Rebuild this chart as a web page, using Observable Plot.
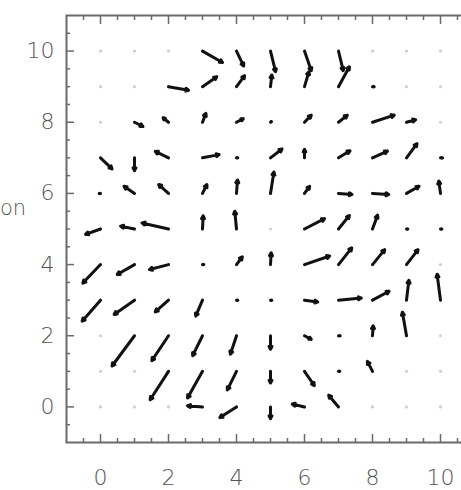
<!DOCTYPE html>
<html>
<head>
<meta charset="utf-8">
<script src="https://cdn.jsdelivr.net/npm/d3@7"></script>
<script src="https://cdn.jsdelivr.net/npm/@observablehq/plot@0.6"></script>
<style>
  html, body { margin: 0; padding: 0; background: #fff; }
  #wrap { position: relative; width: 461px; height: 490px; overflow: hidden; }
  #ylab { position: absolute; left: 0px; top: 196px; font: 200 21px "DejaVu Sans", sans-serif; color: #555; z-index: 2; }
</style>
</head>
<body>
<div id="wrap"></div>
<script>
// grid coordinates
const gridX = [0, 1, 2, 3, 4, 5, 6, 7, 8, 9, 10];
const gridY = [10, 9, 8, 7, 6, 5, 4, 3, 2, 1, 0]; // row order of U and V

// vector x-components, one row per gridY value (top row first)
const U = [
  [0, 0, 0, 0.59, 0.21, 0.15, 0.2, 0.14, 0, 0, 0],
  [0, 0, 0.59, 0.42, 0.24, 0.04, 0.13, 0.32, 0.05, 0, 0],
  [0, 0.25, -0.16, 0.1, 0.2, 0.03, 0.2, 0.26, 0.64, 0.27, 0],
  [0.34, 0, -0.39, 0.49, 0.04, 0.34, 0, 0.34, 0.44, 0.31, 0.06],
  [-0.04, -0.31, -0.29, 0.13, 0.03, 0.1, 0.15, 0.4, 0.48, 0.37, -0.05],
  [-0.44, -0.41, -0.78, 0.02, -0.05, 0, 0.59, 0.32, 0.15, 0.04, 0.04],
  [-0.52, -0.51, -0.56, 0.04, 0.17, 0.02, 0.74, 0.39, 0.36, 0.34, 0],
  [-0.54, -0.6, -0.39, -0.2, 0.04, 0.04, 0.39, 0.67, 0.49, 0.07, -0.1],
  [0, -0.66, -0.49, -0.29, -0.18, 0, 0.2, 0.05, 0.02, -0.12, 0],
  [0, 0, -0.54, -0.44, -0.27, 0, 0.29, 0.04, -0.15, 0, 0],
  [0, 0, 0, -0.44, -0.49, 0, -0.36, -0.29, 0, 0, 0]
];
// vector y-components
const V = [
  [0, 0, 0, -0.32, -0.42, -0.58, -0.55, -0.55, 0, 0, 0],
  [0, 0, -0.1, 0.28, 0.31, 0.33, 0.42, 0.56, 0, 0, 0],
  [0, -0.12, 0.13, 0.25, 0.1, 0.02, 0.2, 0.2, 0.2, 0.07, 0],
  [-0.31, -0.36, 0.18, 0.09, 0, 0.25, 0.24, 0.2, 0.19, 0.4, 0],
  [0, 0.2, 0.25, 0.25, 0.38, 0.6, 0.2, -0.03, -0.03, 0.2, 0.35],
  [-0.15, 0.08, 0.17, 0.37, 0.5, 0, 0.29, 0.38, 0.39, 0, 0],
  [-0.52, -0.28, -0.14, 0, 0.22, 0.33, 0.24, 0.47, 0.42, 0.42, 0],
  [-0.59, -0.4, -0.33, -0.45, 0, 0, -0.05, 0.06, 0.25, 0.56, 0.73],
  [0, -0.85, -0.7, -0.56, -0.52, -0.38, -0.1, 0, 0.28, 0.66, 0],
  [0, 0, -0.8, -0.75, -0.52, -0.33, -0.4, 0, 0.28, 0, 0],
  [0, 0, 0, 0.03, -0.3, -0.33, 0.08, 0.33, 0, 0, 0]
];

const majorTicks = [0, 2, 4, 6, 8, 10];
const minorTicks = [-0.5, 0.5, 1, 1.5, 2.5, 3, 3.5, 4.5, 5, 5.5, 6.5, 7, 7.5, 8.5, 9, 9.5, 10.5];
const yLabel = "on";

const points = gridY.flatMap((y, r) => gridX.map((x, c) => ({x, y, u: U[r][c], v: V[r][c]})));
const vectors = points.filter(d => d.u !== 0 || d.v !== 0);

const axisColor = "#6a6a6a";
const noText = () => "";
const tickOpts = {tickFormat: noText, stroke: axisColor, strokeWidth: 1.5, label: null};

const chart = Plot.plot({
  width: 461,
  height: 490,
  marginLeft: 66,
  marginRight: -13,
  marginTop: 15,
  marginBottom: 48,
  x: {domain: [-1, 11], range: [66, 474]},
  y: {domain: [-1, 11], range: [442, 15]},
  axis: null,
  style: {background: "transparent", fontFamily: "DejaVu Sans, sans-serif", fontSize: "22px", overflow: "hidden"},
  marks: [
    Plot.dot(points, {x: "x", y: "y", r: 1.6, fill: "#cfcfcf", stroke: null}),
    Plot.arrow(vectors, {
      x1: "x", y1: "y",
      x2: d => d.x + d.u, y2: d => d.y + d.v,
      stroke: "#111", strokeWidth: 3, headLength: 1.6, headAngle: 55, strokeLinecap: "round"
    }),
    // ticks pointing inward
    Plot.axisX(majorTicks, {anchor: "bottom", tickSize: -8, ...tickOpts}),
    Plot.axisX(minorTicks, {anchor: "bottom", tickSize: -4, ...tickOpts}),
    Plot.axisX(majorTicks, {anchor: "top", tickSize: -8, ...tickOpts}),
    Plot.axisX(minorTicks, {anchor: "top", tickSize: -4, ...tickOpts}),
    Plot.axisY(majorTicks, {anchor: "left", tickSize: -8, ...tickOpts}),
    Plot.axisY(minorTicks, {anchor: "left", tickSize: -4, ...tickOpts}),
    // tick labels
    Plot.axisX(majorTicks, {anchor: "bottom", tickSize: 0, tickPadding: 27, fill: "#555", fontWeight: 200, fontSize: 22, label: null}),
    Plot.axisY(majorTicks, {anchor: "left", tickSize: 0, tickPadding: 12, fill: "#555", fontWeight: 200, fontSize: 22, label: null}),
    Plot.frame({stroke: axisColor, strokeWidth: 2})
  ]
});

const wrap = document.getElementById("wrap");
wrap.appendChild(chart);
const lab = document.createElement("div");
lab.id = "ylab";
lab.textContent = yLabel;
wrap.appendChild(lab);
</script>
</body>
</html>
